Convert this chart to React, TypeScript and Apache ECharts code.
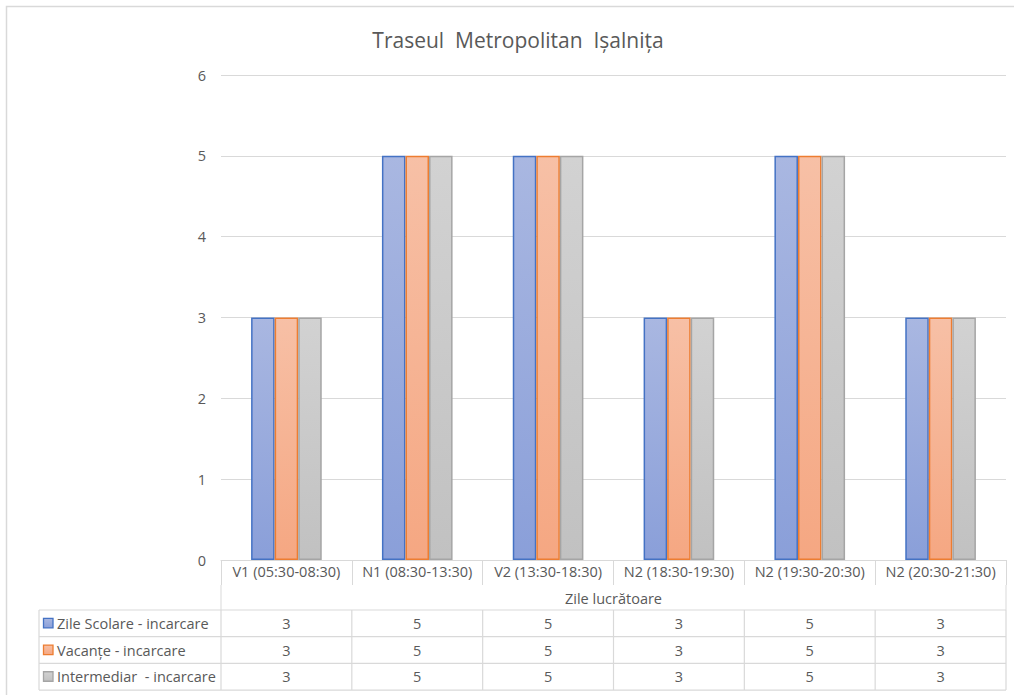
import React, { useEffect, useRef } from "react";
import * as echarts from "echarts";

const chartTitle = "Traseul  Metropolitan  Ișalnița";
const categories = [
  "V1 (05:30-08:30)",
  "N1 (08:30-13:30)",
  "V2 (13:30-18:30)",
  "N2 (18:30-19:30)",
  "N2 (19:30-20:30)",
  "N2 (20:30-21:30)",
];
const xAxisName = "Zile lucrătoare";
const seriesNames = ["Zile Scolare - incarcare", "Vacanțe - incarcare", "Intermediar  - incarcare"];
const zileScolare = [3, 5, 5, 3, 5, 3];
const vacante = [3, 5, 5, 3, 5, 3];
const intermediar = [3, 5, 5, 3, 5, 3];
const yMin = 0;
const yMax = 6;
const yInterval = 1;

const seriesData = [zileScolare, vacante, intermediar];
const borderColors = ["#4472c4", "#ed7d31", "#a5a5a5"];
const gradStops = [
  ["#a9b7e1", "#8a9fd9"],
  ["#f7c0a6", "#f5a782"],
  ["#d2d2d2", "#c1c1c1"],
];

const FONT = "Open Sans";
const FS = 14.5;
const TXT = "#595959";
const LINE = "#d9d9d9";

const W = 1014;
const H = 695;
const gridLeft = 221;
const gridRight = 1006;
const gridTop = 75;
const gridBottom = 560;
const headerBottom = 585;
const tableTop = 610;
const rowH = 26.7;
const tableLeft = 39;

function grad(i: number) {
  return new echarts.graphic.LinearGradient(0, 0, 0, 1, [
    { offset: 0, color: gradStops[i][0] },
    { offset: 1, color: gradStops[i][1] },
  ]);
}

export default function App() {
  const ref = useRef<HTMLDivElement>(null);
  useEffect(() => {
    if (!ref.current) return;
    const chart = echarts.init(ref.current, undefined, { renderer: "svg" });
    chart.setOption({
      animation: false,
      backgroundColor: "#ffffff",
      grid: {
        left: gridLeft,
        right: W - gridRight,
        top: gridTop,
        bottom: H - gridBottom,
        containLabel: false,
      },
      xAxis: {
        type: "category",
        data: categories,
        boundaryGap: true,
        axisLine: { show: true, lineStyle: { color: LINE, width: 1 } },
        axisTick: {
          show: true,
          interval: 0,
          length: headerBottom - gridBottom,
          lineStyle: { color: LINE, width: 1 },
        },
        axisLabel: {
          interval: 0,
          color: TXT,
          fontFamily: FONT,
          fontSize: FS,
          margin: 4,
        },
        name: xAxisName,
        nameLocation: "middle",
        nameGap: 31,
        nameTextStyle: { color: TXT, fontFamily: FONT, fontSize: FS },
      },
      yAxis: {
        type: "value",
        min: yMin,
        max: yMax,
        interval: yInterval,
        axisLine: { show: false },
        axisTick: { show: false },
        splitLine: { lineStyle: { color: LINE, width: 1 } },
        axisLabel: { color: TXT, fontFamily: FONT, fontSize: FS, margin: 15 },
      },
      series: seriesNames.map((name, i) => ({
        name,
        type: "bar",
        data: seriesData[i],
        barGap: "0%",
        barCategoryGap: "46%",
        itemStyle: { color: grad(i), borderColor: borderColors[i], borderWidth: 1.5 },
      })),
    });

    const centers = categories.map((_, i) => chart.convertToPixel({ xAxisIndex: 0 }, i) as number);
    const colW = centers.length > 1 ? centers[1] - centers[0] : gridRight - gridLeft;
    const bounds = [centers[0] - colW / 2, ...centers.map((c) => c + colW / 2)];
    const tableBottom = tableTop + rowH * seriesNames.length;

    const els: any[] = [];
    els.push({
      type: "rect",
      shape: { x: 6.5, y: 6.5, width: W + 10, height: H + 10 },
      style: { fill: "none", stroke: LINE, lineWidth: 1.5 },
      silent: true,
    });
    els.push({
      type: "text",
      x: 518,
      y: 40,
      style: {
        text: chartTitle,
        fill: TXT,
        font: `21px "${FONT}"`,
        textAlign: "center",
        textVerticalAlign: "middle",
      },
    });
    [bounds[0], bounds[bounds.length - 1]].forEach((x) => {
      els.push({
        type: "line",
        shape: { x1: x, y1: headerBottom, x2: x, y2: tableTop },
        style: { stroke: LINE, lineWidth: 1 },
      });
    });
    for (let r = 0; r <= seriesNames.length; r++) {
      const y = tableTop + r * rowH;
      els.push({
        type: "line",
        shape: { x1: tableLeft, y1: y, x2: bounds[bounds.length - 1], y2: y },
        style: { stroke: LINE, lineWidth: 1.2 },
      });
    }
    [tableLeft, ...bounds].forEach((x) => {
      els.push({
        type: "line",
        shape: { x1: x, y1: tableTop, x2: x, y2: tableBottom },
        style: { stroke: LINE, lineWidth: 1.2 },
      });
    });
    seriesNames.forEach((name, r) => {
      const cy = tableTop + (r + 0.5) * rowH;
      els.push({
        type: "rect",
        shape: { x: 43.5, y: cy - 5, width: 9.5, height: 9.5 },
        style: { fill: grad(r), stroke: borderColors[r], lineWidth: 1.3 },
      });
      els.push({
        type: "text",
        x: 57,
        y: cy,
        style: {
          text: name,
          fill: TXT,
          font: `${FS}px "${FONT}"`,
          textAlign: "left",
          textVerticalAlign: "middle",
        },
      });
      seriesData[r].forEach((v, c) => {
        els.push({
          type: "text",
          x: centers[c],
          y: cy,
          style: {
            text: String(v),
            fill: TXT,
            font: `${FS}px "${FONT}"`,
            textAlign: "center",
            textVerticalAlign: "middle",
          },
        });
      });
    });
    chart.setOption({ graphic: { elements: els } });

    return () => chart.dispose();
  }, []);
  return (
    <div
      ref={ref}
      style={{ position: "absolute", left: 0, top: 0, width: W, height: H, background: "#fff" }}
    />
  );
}
